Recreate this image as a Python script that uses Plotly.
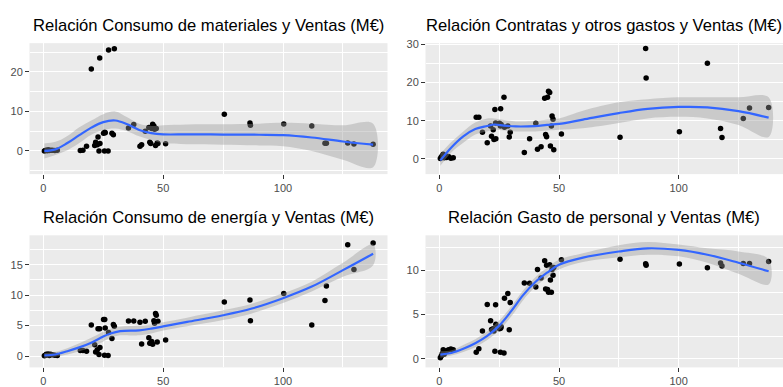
import plotly.graph_objects as go

# ---------------- data ----------------
ventas = [0.4, 0.8, 1.2, 1.6, 2.0, 2.5, 3.0, 3.8, 4.8, 5.8,
          15.4, 16.5, 18.0, 20.0, 21.4, 21.8, 22.5, 22.8, 23.2, 23.5,
          23.6, 25.1, 25.5, 25.6, 25.8, 27.0, 27.2, 28.6, 29.2, 29.6,
          35.5, 37.7, 40.3, 41.0, 42.5, 44.0, 44.4, 44.8, 45.2, 45.6,
          46.1, 46.4, 46.8, 47.1, 47.5, 47.8, 51.0,
          75.5, 86.2, 86.4, 100.3, 112.0, 117.5, 118.1, 127.0, 129.6, 137.6]

materiales = [0.0, 0.1, 0.2, 0.05, 0.3, 0.1, 0.2, 0.15, 0.1, 0.2,
              0.1, 0.15, 1.2, 20.7, 1.4, 2.2, 1.6, 3.5, 0.0, 23.5,
              1.9, 4.5, 0.0, 4.7, 4.6, 0.0, 25.5, 4.5, 4.1, 25.8,
              5.8, 6.7, 1.2, 1.6, 5.0, 5.9, 2.2, 1.9, 5.7, 6.75,
              6.3, 5.5, 1.4, 5.7, 2.0, 1.9, 1.8,
              9.27, 7.07, 6.5, 6.83, 6.34, 1.95, 1.95, 2.03, 1.78, 1.7]

contratas = [0.1, 0.5, 0.8, 1.2, 0.3, 0.9, 0.4, 0.6, 0.2, 0.3,
             10.9, 10.9, 7.0, 4.2, 8.6, 5.9, 7.6, 5.1, 12.9, 9.4,
             5.3, 9.3, 8.6, 13.1, 9.0, 16.1, 8.3, 8.6, 5.7, 7.0,
             1.7, 5.3, 9.3, 2.5, 3.2, 15.9, 6.4, 5.8, 16.1, 17.7,
             17.4, 3.4, 8.6, 11.2, 10.4, 2.4, 6.5,
             5.66, 28.9, 21.2, 7.1, 25.0, 7.94, 5.58, 10.56, 13.35, 13.45]

energia = [0.05, 0.15, 0.3, 0.2, 0.35, 0.1, 0.3, 0.2, 0.15, 0.1,
           0.9, 0.9, 0.8, 5.1, 1.85, 0.65, 1.05, 4.5, 0.26, 4.5,
           1.4, 6.0, 0.15, 6.0, 4.6, 0.1, 3.86, 2.9, 5.2, 4.9,
           5.77, 5.77, 5.56, 2.0, 5.7, 3.0, 2.1, 2.1, 2.4, 1.96,
           5.8, 5.4, 7.0, 6.7, 2.3, 5.7, 2.65,
           8.89, 9.2, 5.81, 10.25, 5.08, 9.14, 11.48, 18.25, 14.2, 18.57]

personal = [0.1, 0.3, 0.6, 1.0, 0.5, 0.8, 0.9, 1.0, 1.1, 1.0,
            0.72, 1.12, 3.12, 6.12, 4.28, 3.3, 3.37, 3.12, 0.83, 6.09,
            3.9, 3.37, 0.72, 3.44, 3.6, 0.65, 6.81, 7.36, 3.26, 6.34,
            8.55, 8.5, 8.1, 10.07, 9.09, 11.05, 7.86, 10.54, 7.8, 7.5,
            10.6, 8.88, 7.5, 10.07, 9.42, 10.3, 11.16,
            11.22, 10.72, 10.54, 10.68, 10.25, 10.8, 10.47, 10.75, 10.75, 10.97]

# smoothed (loess) curves
smooth_x1 = [0.4, 5, 10, 15, 20, 25, 30, 35, 40, 45, 50, 60, 75, 90, 100, 112, 125, 137.6]
fit1 = [0.0, 0.4, 2.0, 4.0, 5.9, 7.3, 7.7, 6.75, 5.3, 4.5, 4.2, 4.2, 4.15, 4.1, 4.0, 3.4, 2.4, 1.6]
low1 = [-1.9, -1.0, 0.2, 2.0, 4.1, 5.3, 5.7, 5.0, 3.7, 2.8, 2.0, 1.7, 1.6, 1.4, 1.2, 0.0, -2.2, -4.1]
up1 = [1.9, 2.3, 3.8, 6.0, 7.7, 9.3, 10.0, 8.5, 6.9, 6.3, 6.5, 6.7, 6.75, 6.9, 7.1, 6.9, 6.5, 6.9]

smooth_x2 = [0.4, 5, 10, 15, 20, 23, 27, 32, 40, 45, 50, 60, 75, 87, 100, 112, 125, 137.6]
fit2 = [-0.4, 3.0, 5.9, 7.8, 8.6, 9.0, 8.7, 8.5, 8.6, 8.9, 9.15, 10.3, 12.0, 13.1, 13.6, 13.5, 12.5, 10.8]
low2 = [-1.8, 1.7, 4.2, 6.4, 7.2, 7.6, 7.4, 7.2, 7.2, 7.4, 7.6, 8.0, 9.4, 10.6, 11.0, 10.6, 8.9, 5.75]
up2 = [1.3, 4.4, 7.2, 9.5, 10.6, 10.6, 10.2, 9.8, 9.9, 10.3, 10.6, 12.6, 14.8, 15.6, 16.1, 16.1, 16.1, 16.1]

smooth_x3 = [0.4, 5, 10, 15, 20, 25, 28, 32, 40, 45, 50, 60, 75, 87, 100, 112, 125, 137.6]
fit3 = [0.1, 0.26, 0.8, 1.43, 2.2, 3.2, 3.7, 4.1, 4.23, 4.5, 4.87, 5.6, 6.7, 7.8, 9.5, 11.4, 14.1, 16.8]
low3 = [-0.3, -0.1, 0.26, 0.8, 1.4, 2.4, 3.0, 3.4, 3.4, 3.7, 4.2, 4.9, 5.9, 7.0, 8.7, 10.6, 13.0, 14.9]
up3 = [0.5, 0.7, 1.3, 2.1, 3.0, 4.0, 4.5, 4.8, 5.0, 5.2, 5.55, 6.3, 7.5, 8.6, 10.3, 12.2, 15.3, 18.3]

smooth_x4 = [0.4, 5, 10, 15, 20, 25, 30, 35, 40, 45, 50, 60, 75, 87, 100, 112, 125, 137.6]
fit4 = [0.47, 0.65, 1.12, 1.74, 2.57, 3.73, 5.36, 7.17, 8.62, 9.7, 10.6, 11.4, 12.09, 12.45, 12.27, 11.73, 10.83, 9.86]
low4 = [0.1, 0.35, 0.76, 1.3, 2.1, 3.2, 4.75, 6.6, 8.08, 9.17, 10.07, 10.9, 11.44, 11.73, 11.55, 10.83, 9.57, 8.38]
up4 = [0.83, 0.95, 1.56, 2.2, 3.1, 4.3, 5.9, 7.7, 9.17, 10.25, 11.16, 11.9, 12.8, 13.17, 12.88, 12.45, 12.1, 11.2]

titles = ["Relación Consumo de materiales y Ventas (M€)",
          "Relación Contratas y otros gastos y Ventas (M€)",
          "Relación Consumo de energía y Ventas (M€)",
          "Relación Gasto de personal y Ventas (M€)"]

x_ticks = [0, 50, 100]
y_ticks = [[0, 10, 20], [0, 10, 20, 30], [0, 5, 10, 15], [0, 5, 10]]
y_ranges = [[-5.85, 27.24], [-3.98, 30.28], [-1.86, 19.82], [-0.98, 13.92]]
x_range = [-5.8, 143.6]

# ---------------- layout geometry ----------------
W, H = 783, 387
panels = [  # left, right, top, bottom in pixels
    (29.5, 387.5, 39.5, 175),
    (425.5, 783, 39.5, 175),
    (29.5, 387.5, 238.3, 375),
    (425.5, 783, 238.3, 375),
]

series = [materiales, contratas, energia, personal]
smooth = [(smooth_x1, fit1, low1, up1), (smooth_x2, fit2, low2, up2),
          (smooth_x3, fit3, low3, up3), (smooth_x4, fit4, low4, up4)]

fig = go.Figure()
FONT = "Liberation Sans, Arial, sans-serif"
layout = dict(width=W, height=H, margin=dict(l=0, r=0, t=0, b=0),
              paper_bgcolor="white", plot_bgcolor="#EBEBEB", showlegend=False,
              font=dict(family=FONT))
annotations = []
shapes = []
for i in range(4):
    ax = "" if i == 0 else str(i + 1)
    l, r, t, b = panels[i]
    xd = [l / W, r / W]
    yd = [1 - b / H, 1 - t / H]
    sx, fit, low, up = smooth[i]
    fig.add_trace(go.Scatter(x=ventas, y=series[i], mode="markers",
                             marker=dict(color="black", size=5.5, line=dict(width=0)),
                             xaxis="x" + ax, yaxis="y" + ax, hoverinfo="skip"))
    fig.add_trace(go.Scatter(x=sx + sx[::-1], y=up + low[::-1], mode="lines",
                             fill="toself", fillcolor="rgba(153,153,153,0.4)",
                             line=dict(width=0, shape="spline"),
                             xaxis="x" + ax, yaxis="y" + ax, hoverinfo="skip"))
    fig.add_trace(go.Scatter(x=sx, y=fit, mode="lines",
                             line=dict(color="#3366FF", width=2.2, shape="spline"),
                             xaxis="x" + ax, yaxis="y" + ax, hoverinfo="skip"))
    shapes.append(dict(type="rect", xref="paper", yref="paper", x0=xd[0], x1=xd[1],
                       y0=yd[0], y1=yd[1], fillcolor="#EBEBEB", line=dict(width=0),
                       layer="below"))
    common = dict(showline=False, zeroline=False, gridcolor="white", gridwidth=1.1,
                  ticks="outside", ticklen=3.5, tickwidth=1.1, tickcolor="#333333",
                  tickfont=dict(family=FONT, size=11, color="#4D4D4D"),
                  minor=dict(showgrid=True, gridcolor="white", gridwidth=0.5, ticks=""))
    layout["xaxis" + ax] = dict(domain=xd, range=x_range, tickvals=x_ticks,
                                anchor="y" + ax, **common)
    layout["xaxis" + ax]["minor"] = dict(showgrid=True, gridcolor="white", gridwidth=0.5,
                                         tickvals=[25, 75, 125], ticks="")
    yt = y_ticks[i]
    step = yt[1] - yt[0]
    minor_vals = [v - step / 2 for v in yt] + [yt[-1] + step / 2]
    layout["yaxis" + ax] = dict(domain=yd, range=y_ranges[i], tickvals=yt,
                                anchor="x" + ax, **common)
    layout["yaxis" + ax]["minor"] = dict(showgrid=True, gridcolor="white", gridwidth=0.5,
                                         tickvals=minor_vals, ticks="")
    annotations.append(dict(text=titles[i], xref="paper", yref="paper",
                            x=(xd[0] + xd[1]) / 2, y=yd[1] + 6 / H,
                            xanchor="center", yanchor="bottom", showarrow=False,
                            font=dict(family=FONT, size=16.6, color="black")))

layout["annotations"] = annotations
fig.update_layout(**layout)
fig.write_html("out.html")
